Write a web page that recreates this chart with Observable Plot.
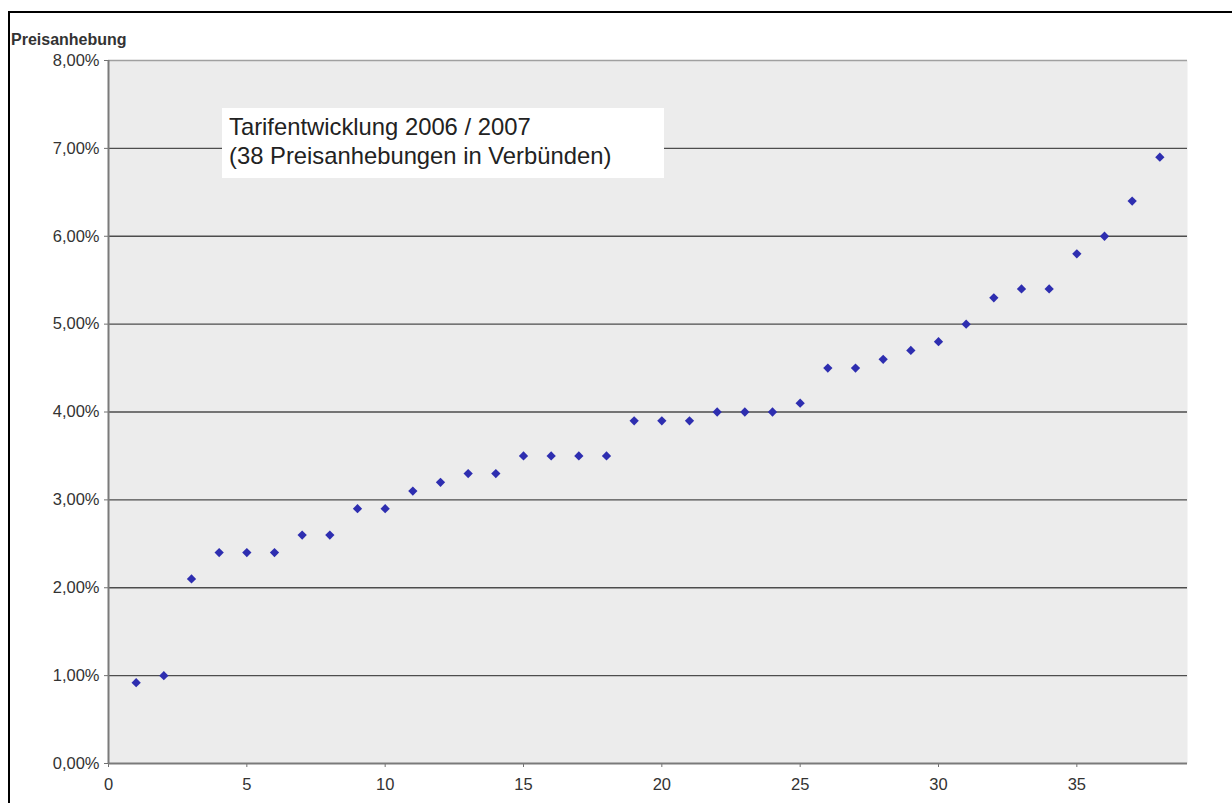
<!DOCTYPE html>
<html>
<head>
<meta charset="utf-8">
<script src="https://cdn.jsdelivr.net/npm/d3@7"></script>
<script src="https://cdn.jsdelivr.net/npm/@observablehq/plot@0.6"></script>
<style>
  html, body { margin: 0; padding: 0; background: #fff; overflow: hidden; }
  #wrap { position: relative; width: 1232px; height: 803px; font-family: "Liberation Sans", Arial, sans-serif; }
  #border { position: absolute; left: 8px; top: 11px; width: 1300px; height: 900px; border: 2px solid #000; box-sizing: border-box; }
  #ylabel { position: absolute; left: 11px; top: 31px; font-weight: bold; font-size: 16px; color: #333; }
  #note { position: absolute; left: 222px; top: 108px; width: 442px; height: 70px; background: #fff; box-sizing: border-box;
          padding: 4px 0 0 7px; font-size: 23.8px; line-height: 29px; color: #222; white-space: nowrap; }
  #chart { position: absolute; left: 0; top: 0; }
</style>
</head>
<body>
<div id="wrap">
  <div id="border"></div>
  <div id="chart"></div>
  <div id="ylabel">Preisanhebung</div>
  <div id="note">Tarifentwicklung 2006 / 2007<br>(38 Preisanhebungen in Verbünden)</div>
</div>
<script>
const rank = [1,2,3,4,5,6,7,8,9,10,11,12,13,14,15,16,17,18,19,20,21,22,23,24,25,26,27,28,29,30,31,32,33,34,35,36,37,38];
const increase = [0.92,1.00,2.10,2.40,2.40,2.40,2.60,2.60,2.90,2.90,3.10,3.20,3.30,3.30,3.50,3.50,3.50,3.50,3.90,3.90,3.90,4.00,4.00,4.00,4.10,4.50,4.50,4.60,4.70,4.80,5.00,5.30,5.40,5.40,5.80,6.00,6.40,6.90];
const xTicks = [0,5,10,15,20,25,30,35];
const yTicks = [0,1,2,3,4,5,6,7,8];
const gridLines = [1,2,3,4,5,6,7];

const data = rank.map((r, i) => ({rank: r, value: increase[i]}));

const diamond = {
  draw(ctx, size) {
    const r = Math.sqrt(size / 2);
    ctx.moveTo(0, -r); ctx.lineTo(r, 0); ctx.lineTo(0, r); ctx.lineTo(-r, 0); ctx.closePath();
  }
};

const fmt = d => d.toFixed(2).replace(".", ",") + "%";

const chart = Plot.plot({
  width: 1232,
  height: 803,
  marginLeft: 108,
  marginRight: 45,
  marginTop: 60,
  marginBottom: 40,
  x: {domain: [0, 39]},
  y: {domain: [0, 8]},
  style: {fontFamily: "'Liberation Sans', Arial, sans-serif", fontSize: "16.5px", color: "#333", background: "transparent", overflow: "visible"},
  marks: [
    Plot.frame({fill: "#ececec", stroke: null}),
    Plot.ruleY(gridLines, {stroke: "#4d4d4d", strokeWidth: 1.4}),
    Plot.ruleY([8], {stroke: "#a0a0a0", strokeWidth: 1.5}),
    Plot.axisY({ticks: yTicks, tickFormat: fmt, tickSize: 4, tickPadding: 5, label: null, stroke: "#707070"}),
    Plot.axisX({ticks: xTicks, tickFormat: d => String(d), tickSize: 4, tickPadding: 11, label: null, stroke: "#707070"}),
    Plot.ruleX([0], {stroke: "#7a7a7a", strokeWidth: 2}),
    Plot.ruleY([0], {stroke: "#7a7a7a", strokeWidth: 2}),
    Plot.dot(data, {x: "rank", y: "value", symbol: diamond, r: 3.7, fill: "#2e2eb0", stroke: null})
  ]
});
document.getElementById("chart").appendChild(chart);
</script>
</body>
</html>
